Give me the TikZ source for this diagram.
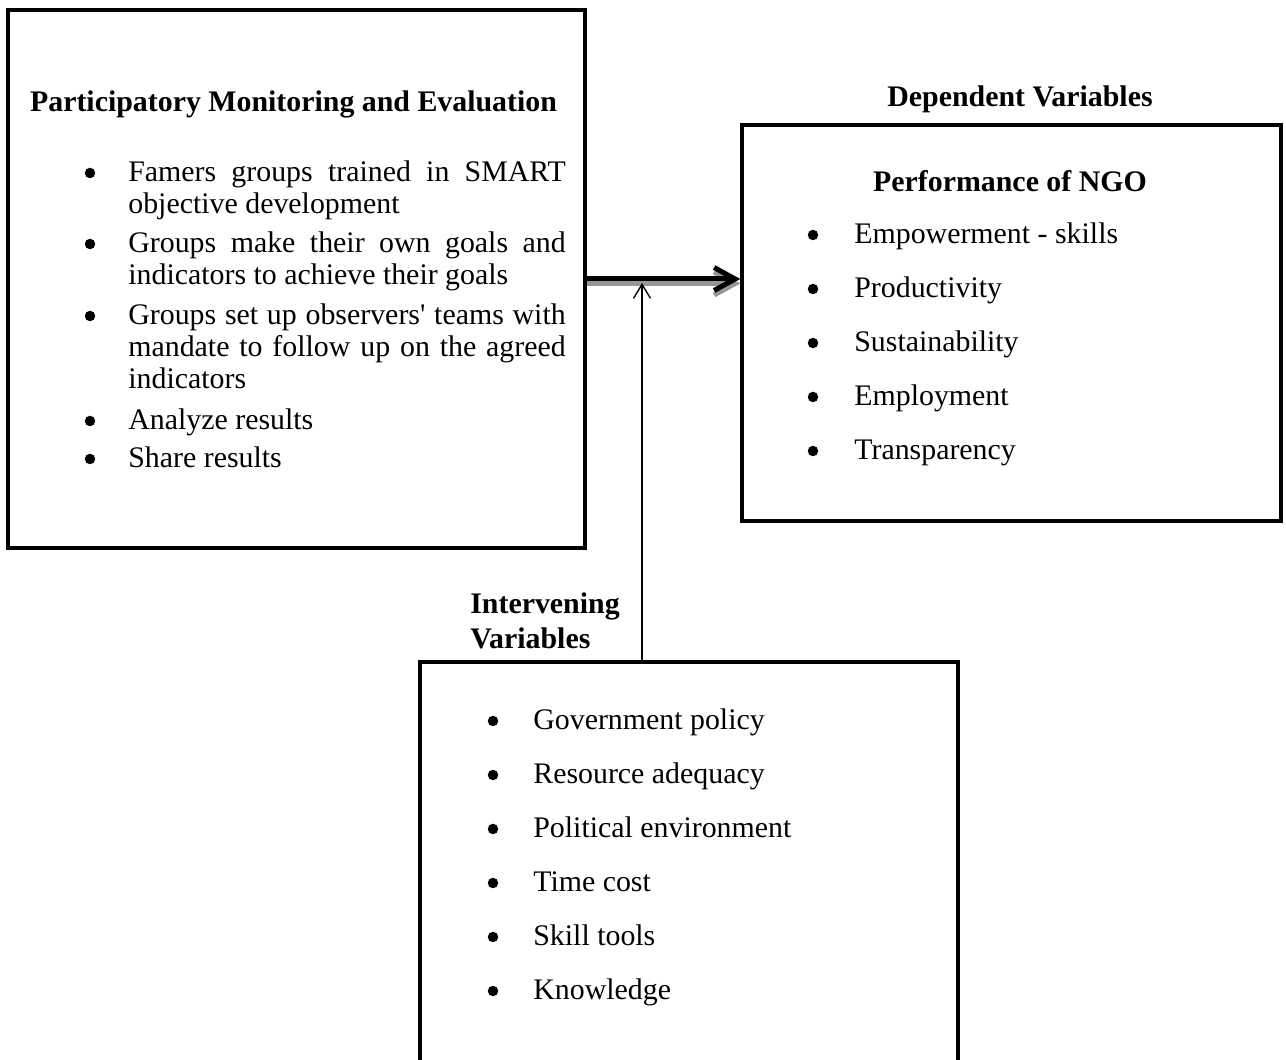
\documentclass[tikz,border=0pt]{standalone}
\usepackage{fontspec}
\setmainfont{Liberation Serif}
\usepackage{tikz}
\usetikzlibrary{arrows.meta, positioning}
\usepackage{xcolor}
\definecolor{shadegray}{RGB}{150,150,150}
\hyphenpenalty=10000
\exhyphenpenalty=10000

\tikzset{
  varbox/.style={draw, rectangle, line width=0.07cm, inner sep=0pt},
  bodytxt/.style={font=\fontsize{17}{18.2}\selectfont, inner sep=0pt},
  headtxt/.style={font=\fontsize{17}{19.4}\selectfont\bfseries, inner sep=0pt},
  bulletdot/.style={circle, fill, inner sep=0pt, minimum size=0.21cm},
}

\begin{document}
\begin{tikzpicture}[x=0.02cm, y=-0.02cm]
\useasboundingbox (0,0) rectangle (1286,1060);
\clip (0,0) rectangle (1286,1060);

% the three boxes
\node[varbox, minimum width=11.54cm, minimum height=10.76cm] (pme) at (296.5,279) {};
\node[varbox, minimum width=10.78cm, minimum height=7.92cm] (perf) at (1011.5,323) {};
\node[varbox, minimum width=10.76cm, minimum height=9cm] (interv) at (689,887) {};

% headings
\node[headtxt, anchor=base] (pmehead) at (293.5,112) {Participatory Monitoring and Evaluation};
\node[headtxt, anchor=base] (dephead) at (1020,107) {Dependent Variables};
\node[headtxt, anchor=base] (perfhead) at (1010,192) {Performance of NGO};
\node[headtxt, anchor=base west, text width=3.5cm, align=left] (intvhead) at (470,614) {Intervening\\Variables};

% independent variable items
\node[bulletdot] (pmeb1) at (90,173) {};
\node[bodytxt, anchor=base west, text width=8.75cm, align=justify] (pmet1) at (128,182)
  {Famers groups trained in SMART objective development};
\node[bulletdot] (pmeb2) at (90,244) {};
\node[bodytxt, anchor=base west, text width=8.75cm, align=justify] (pmet2) at (128,253)
  {Groups make their own goals and indicators to achieve their goals};
\node[bulletdot] (pmeb3) at (90,316) {};
\node[bodytxt, anchor=base west, text width=8.75cm, align=justify] (pmet3) at (128,325)
  {Groups set up observers{\textquotesingle} teams with mandate to follow up on the agreed indicators};
\node[bulletdot] (pmeb4) at (90,421) {};
\node[bodytxt, anchor=base west] (pmet4) at (128,430) {Analyze results};
\node[bulletdot] (pmeb5) at (90,459) {};
\node[bodytxt, anchor=base west] (pmet5) at (128,468) {Share results};

% dependent variable items
\foreach \lbl [count=\k] in {Empowerment - skills, Productivity, Sustainability, Employment, Transparency} {
  \pgfmathsetmacro\by{190+54*\k}
  \node[bulletdot] (perfb\k) at (813,\by-9) {};
  \node[bodytxt, anchor=base west] (perft\k) at (854,\by) {\lbl};
}

% intervening variable items
\foreach \lbl [count=\k] in {Government policy, Resource adequacy, Political environment, Time cost, Skill tools, Knowledge} {
  \pgfmathsetmacro\by{676+54*\k}
  \node[bulletdot] (intvb\k) at (493,\by-9) {};
  \node[bodytxt, anchor=base west] (intvt\k) at (533,\by) {\lbl};
}

% main arrow with its grey shadow
\draw[shadegray, line width=0.1cm, -{Straight Barb[length=0.42cm, width=0.46cm]}]
  ([yshift=-0.09cm]pme.east) -- ([yshift=-0.09cm]pme.east -| perf.west);
\draw[line width=0.1cm, -{Straight Barb[length=0.42cm, width=0.46cm]}]
  (pme.east) -- (pme.east -| perf.west);

% intervening link
\coordinate (joint) at (642,283);
\draw[line width=0.8pt, -{Straight Barb[length=0.28cm, width=0.34cm]}]
  (joint |- interv.north) -- (joint);
\end{tikzpicture}
\end{document}
